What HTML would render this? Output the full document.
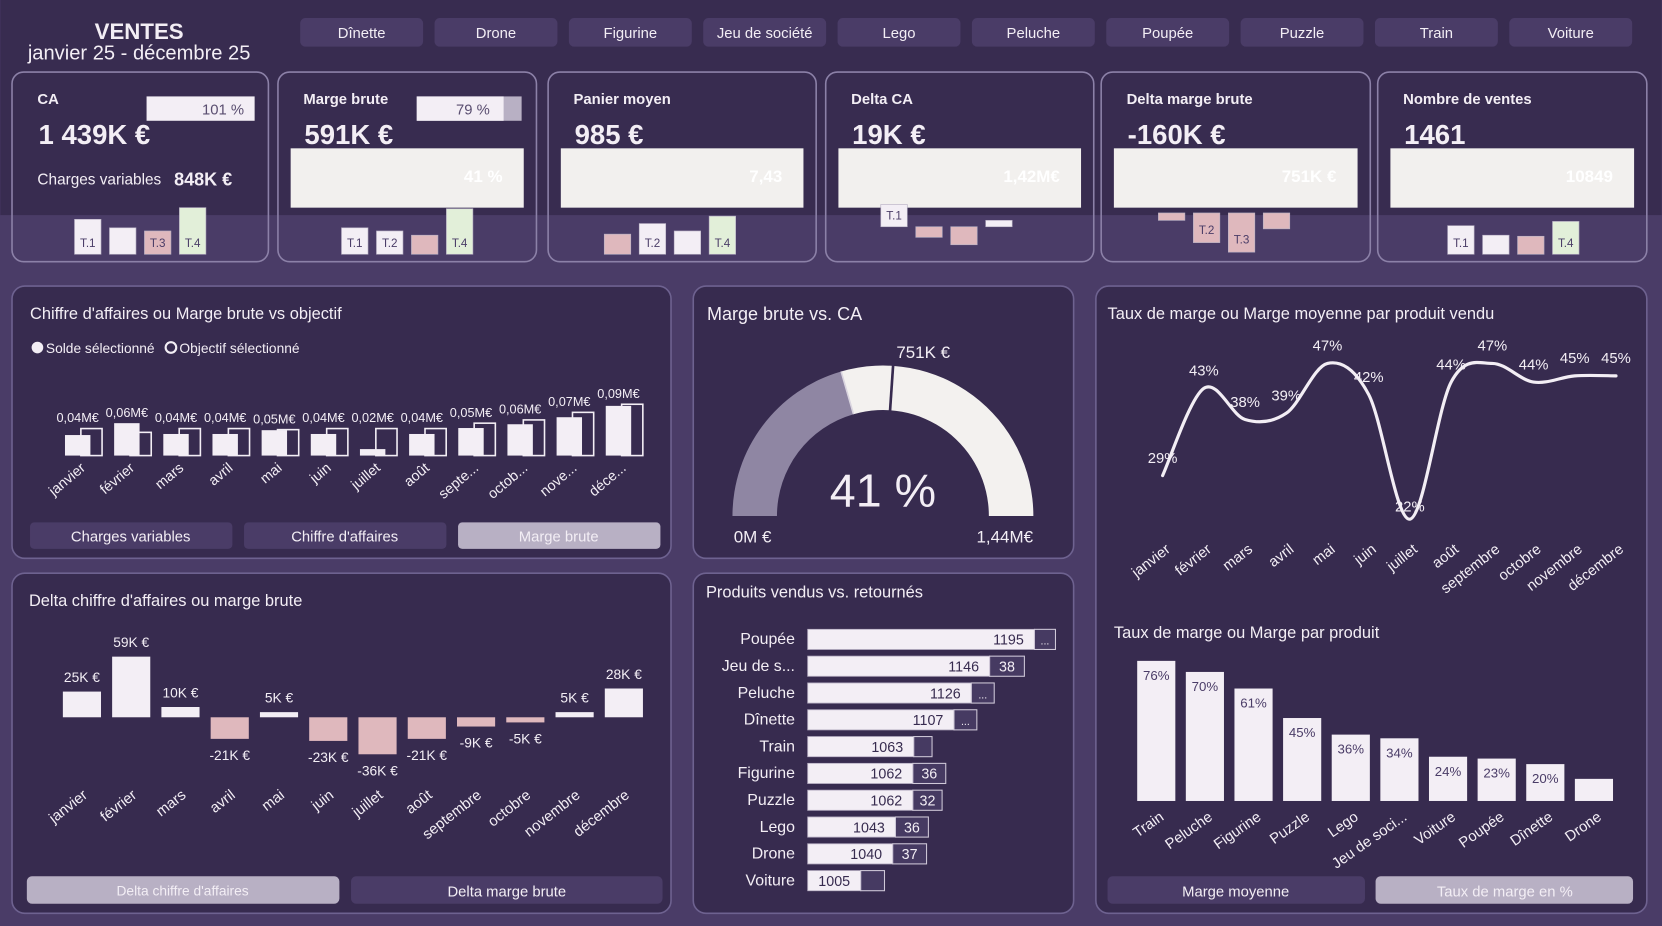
<!DOCTYPE html>
<html><head><meta charset="utf-8">
<style>
html,body{margin:0;padding:0;background:#4a3c67;overflow:hidden;}
svg{display:block;font-family:"Liberation Sans Narrow","Liberation Sans",sans-serif;}
</style></head>
<body>
<svg id="dash" fill="#f3eef5" width="1662" height="926" viewBox="0 0 1568 874" xmlns="http://www.w3.org/2000/svg">
<rect x="0" y="0" width="1568" height="874" fill="#4a3c67"/>
<rect x="0" y="0" width="1568" height="203" fill="#382c50"/>
<text x="131" y="37" text-anchor="middle" font-size="21" font-weight="bold">VENTES</text>
<text x="131" y="56" text-anchor="middle" font-size="19">janvier 25 - décembre 25</text>
<g id="slicers"></g>
<g id="kpis"></g>

<rect x="11" y="270" width="622" height="257" rx="12" fill="#372b4f" stroke="#6e6290" stroke-width="1.5"/>
<rect x="654" y="270" width="359" height="257" rx="12" fill="#372b4f" stroke="#6e6290" stroke-width="1.5"/>
<rect x="1034" y="270" width="520" height="592" rx="12" fill="#372b4f" stroke="#6e6290" stroke-width="1.5"/>
<rect x="11" y="541" width="622" height="321" rx="12" fill="#372b4f" stroke="#6e6290" stroke-width="1.5"/>
<rect x="654" y="541" width="359" height="321" rx="12" fill="#372b4f" stroke="#6e6290" stroke-width="1.5"/>

<text x="28" y="301" font-size="15.5">Chiffre d'affaires ou Marge brute vs objectif</text>
<circle cx="35" cy="328" r="5.5" fill="#f3eef5"/>
<text x="43" y="333" font-size="13">Solde sélectionné</text>
<circle cx="161" cy="328" r="5" fill="none" stroke="#f3eef5" stroke-width="2"/>
<text x="169" y="333" font-size="13">Objectif sélectionné</text>
<g id="objChart"></g>
<rect x="28" y="493" width="191" height="25" rx="4" fill="#4a3c67"/>
<text x="123" y="511" text-anchor="middle" font-size="14">Charges variables</text>
<rect x="230" y="493" width="191" height="25" rx="4" fill="#4a3c67"/>
<text x="325" y="511" text-anchor="middle" font-size="14">Chiffre d'affaires</text>
<rect x="432" y="493" width="191" height="25" rx="4" fill="#b8b0c4"/>
<text x="527" y="511" text-anchor="middle" font-size="14">Marge brute</text>

<text x="667" y="302" font-size="17">Marge brute vs. CA</text>
<g id="gauge"></g>

<text x="1045" y="301" font-size="15.5">Taux de marge ou Marge moyenne par produit vendu</text>
<g id="lineChart"></g>
<text x="1051" y="602" font-size="15.5">Taux de marge ou Marge par produit</text>
<g id="prodChart"></g>
<rect x="1045" y="827" width="243" height="26" rx="5" fill="#4a3c67"/>
<text x="1166" y="846" text-anchor="middle" font-size="14">Marge moyenne</text>
<rect x="1298" y="827" width="243" height="26" rx="5" fill="#b8b0c4"/>
<text x="1420" y="846" text-anchor="middle" font-size="14">Taux de marge en %</text>

<text x="27" y="572" font-size="15.5">Delta chiffre d'affaires ou marge brute</text>
<g id="deltaChart"></g>
<rect x="25" y="827" width="295" height="26" rx="5" fill="#b8b0c4"/>
<text x="172" y="845" text-anchor="middle" font-size="13">Delta chiffre d'affaires</text>
<rect x="331" y="827" width="294" height="26" rx="5" fill="#4a3c67"/>
<text x="478" y="846" text-anchor="middle" font-size="14">Delta marge brute</text>

<text x="666" y="564" font-size="15.5">Produits vendus vs. retournés</text>
<g id="soldChart"></g>
</svg>
<script>
const NS='http://www.w3.org/2000/svg';
function mk(tag,attrs,parent){const e=document.createElementNS(NS,tag);for(const k in attrs)e.setAttribute(k,attrs[k]);parent.appendChild(e);return e;}
const WHITE='#f3eef5',PINK='#dfb8bd',GREEN='#e2efd9',DARK='#372b4f';

const slicerItems=['Dînette','Drone','Figurine','Jeu de société','Lego','Peluche','Poupée','Puzzle','Train','Voiture'];
const months=['janvier','février','mars','avril','mai','juin','juillet','août','septembre','octobre','novembre','décembre'];
const monthsShort=['janvier','février','mars','avril','mai','juin','juillet','août','septe...','octob...','nove...','déce...'];
const soldeValues=[0.038,0.060,0.040,0.040,0.047,0.040,0.012,0.040,0.051,0.058,0.071,0.092];
const objectifValues=[0.050,0.043,0.050,0.050,0.048,0.050,0.050,0.050,0.060,0.066,0.080,0.095];
const objLabels=['0,04M€','0,06M€','0,04M€','0,04M€','0,05M€','0,04M€','0,02M€','0,04M€','0,05M€','0,06M€','0,07M€','0,09M€'];
const deltaValues=[25,59,10,-21,5,-23,-36,-21,-9,-5,5,28];
const marginRate=[29,43,38,39,47,42,22,44,47,44,45,45];
const products=['Train','Peluche','Figurine','Puzzle','Lego','Jeu de soci...','Voiture','Poupée','Dînette','Drone'];
const productRate=[76,70,61,45,36,34,24,23,20,12];
const productRateLabels=['76%','70%','61%','45%','36%','34%','24%','23%','20%',''];
const soldCats=['Poupée','Jeu de s...','Peluche','Dînette','Train','Figurine','Puzzle','Lego','Drone','Voiture'];
const soldValues=[1195,1146,1126,1107,1063,1062,1062,1043,1040,1005];
const returnedValues=[23,38,25,25,20,36,32,36,37,26];
const returnedLabels=['...','38','...','...','','36','32','36','37',''];
const gaugeValue=0.591, gaugeMax=1.44, gaugeTarget=0.751;

const kpiTitles=['CA','Marge brute','Panier moyen','Delta CA','Delta marge brute','Nombre de ventes'];
const kpiValues=['1 439K €','591K €','985 €','19K €','-160K €','1461'];
const kpiSub=['','41 %','7,43','1,42M€','751K €','10849'];
const kpiQ1=[33,25,19,21,-7,27];
const kpiQ2=[25,22,29,-10,-28,18];
const kpiQ3=[22,18,22,-17,-37,17];
const kpiQ4=[44,43,36,6,-15,31];
const quarterLabels=['T.1','T.2','T.3','T.4'];

const sl=document.getElementById('slicers');
slicerItems.forEach((s,i)=>{
  const x=283+i*126.8;
  const r=mk('rect',{x:x,y:17,width:116,height:27,rx:5,fill:'#4a3c67'},sl);
  
  
  const t=mk('text',{x:x+58,y:36,'text-anchor':'middle','font-size':14},sl);
  t.textContent=s;
  
  
});

const kp=document.getElementById('kpis');
const cardX=[[11,253],[262,506],[517,770],[779,1032],[1039,1293],[1300,1554]];
const kpiBase=[240,240,240,214,201,240];
const quarterColor=[[WHITE,WHITE,PINK,GREEN],[WHITE,WHITE,PINK,GREEN],[PINK,WHITE,WHITE,GREEN],[WHITE,PINK,PINK,WHITE],[PINK,PINK,PINK,PINK],[WHITE,WHITE,PINK,GREEN]];
const quarterShow=[[1,0,1,1],[1,1,0,1],[0,1,0,1],[1,0,0,0],[0,1,1,0],[1,0,0,1]];
cardX.forEach((c,i)=>{
  const [x0,x1]=c;
  const card=mk('rect',{x:x0,y:68,width:x1-x0,height:179,rx:11,fill:'none',stroke:'#8c81a8','stroke-width':1.5},kp);
  
  
  const tt=mk('text',{x:x0+24,y:98,'font-size':14,'font-weight':'bold'},kp);
  tt.textContent=kpiTitles[i];
  
  
  const tv=mk('text',{x:x0+25,y:136,'font-size':26,'font-weight':'bold'},kp);
  tv.textContent=kpiValues[i];
  
  
  if(i===0){
    const b=mk('rect',{x:138,y:91,width:102,height:23,fill:WHITE},kp);
    
    
    const bt=mk('text',{x:230,y:108,'text-anchor':'end','font-size':14,fill:'#5a4e70'},kp);
    bt.textContent='101 %';
    
    
    const cv=mk('text',{x:35,y:174,'font-size':14.5},kp);
    cv.textContent='Charges variables';
    
    
    const cvv=mk('text',{x:164,y:175,'font-size':17,'font-weight':'bold'},kp);
    cvv.textContent='848K €';
    
    
  } else {
    if(i===1){
      const g=mk('rect',{x:393,y:91,width:99,height:23,fill:'#b8b0c4'},kp);
      
      
      const w=mk('rect',{x:393,y:91,width:82,height:23,fill:WHITE},kp);
      
      
      const wt=mk('text',{x:462,y:108,'text-anchor':'end','font-size':14,fill:'#5a4e70'},kp);
      wt.textContent='79 %';
      
      
    }
    const sub=mk('rect',{x:x0+12,y:140,width:x1-x0-24,height:56,fill:'#f2f0ee'},kp);
    
    
    const st=mk('text',{x:x1-32,y:172,'text-anchor':'end','font-size':16,'font-weight':'bold',fill:'#ffffff'},kp);
    st.textContent=kpiSub[i];
    
    
  }
  const qv=[kpiQ1[i],kpiQ2[i],kpiQ3[i],kpiQ4[i]];
  const start=[70,322,570,831,1093,1366][i];
  qv.forEach((v,q)=>{
    const bx=start+q*33, base=kpiBase[i];
    const y=v>=0?base-v:base, h=Math.abs(v);
    const r=mk('rect',{x:bx,y:y,width:25,height:h,fill:quarterColor[i][q],stroke:'#b8b0c4','stroke-width':0.6},kp);
    
    
    if(quarterShow[i][q] && h>=14){
      const lt=mk('text',{x:bx+12.5,y:v>=0?base-7:base+h-8,'text-anchor':'middle','font-size':11,fill:'#4a3c67'},kp);
      lt.textContent=quarterLabels[q];
      
      
    }
  });
});

const oc=document.getElementById('objChart');
const oBase=430, oScale=510, oX0=79, oStep=46.4;
months.forEach((m,i)=>{
  const cx=oX0+i*oStep;
  const hs=soldeValues[i]*oScale, ho=objectifValues[i]*oScale;
  const ro=mk('rect',{x:cx-3,y:oBase-ho,width:20,height:ho,fill:'none',stroke:WHITE,'stroke-width':1.5},oc);
  
  
  const rs=mk('rect',{x:cx-18,y:oBase-hs,width:24,height:hs,fill:WHITE},oc);
  
  
  const lt=mk('text',{x:cx-6,y:oBase-Math.max(hs,ho)-6,'text-anchor':'middle','font-size':12},oc);
  lt.textContent=objLabels[i];
  
  
  const ml=mk('text',{x:cx+2,y:443,'text-anchor':'end','font-size':13.5,transform:`rotate(-40 ${cx+2} 443)`},oc);
  ml.textContent=monthsShort[i];
  
  
});

const gg=document.getElementById('gauge');
const gcx=833,gcy=487,gR=142,gr=100;
function pt(f,rad){const t=Math.PI*(1-f);return [gcx+rad*Math.cos(t),gcy-rad*Math.sin(t)];}
function arc(f0,f1){const a=pt(f0,gR),b=pt(f1,gR),c=pt(f1,gr),d=pt(f0,gr);
  return `M${a[0]},${a[1]} A${gR},${gR} 0 0 1 ${b[0]},${b[1]} L${c[0]},${c[1]} A${gr},${gr} 0 0 0 ${d[0]},${d[1]} Z`;}
const fv=gaugeValue/gaugeMax, ft=gaugeTarget/gaugeMax;
const ga=mk('path',{d:arc(fv,1),fill:'#f3f1ef'},gg);


const gb=mk('path',{d:arc(0,fv),fill:'#8f86a3'},gg);


const p1=pt(ft,gr-2),p2=pt(ft,gR+2);
const gm=mk('line',{x1:p1[0],y1:p1[1],x2:p2[0],y2:p2[1],stroke:DARK,'stroke-width':2.5},gg);


const gsep=pt(fv,gR),gsep2=pt(fv,gr);
const gs=mk('line',{x1:gsep[0],y1:gsep[1],x2:gsep2[0],y2:gsep2[1],stroke:'#d9d4df','stroke-width':1.5},gg);


const gt=mk('text',{x:gcx,y:478,'text-anchor':'middle','font-size':44},gg);
gt.textContent=Math.round(fv*100)+' %';


const g0=mk('text',{x:710,y:512,'text-anchor':'middle','font-size':16},gg);
g0.textContent='0M €';


const g1=mk('text',{x:948,y:512,'text-anchor':'middle','font-size':16},gg);
g1.textContent='1,44M€';


const g2=mk('text',{x:871,y:338,'text-anchor':'middle','font-size':16},gg);
g2.textContent='751K €';



const lc=document.getElementById('lineChart');
const lx=i=>1097+i*38.9, ly=v=>343+(47-v)*5.88;
const pts=marginRate.map((v,i)=>[lx(i),ly(v)]);
let d=`M${pts[0][0]},${pts[0][1]}`;
for(let i=0;i<pts.length-1;i++){
  const p0=pts[Math.max(i-1,0)],p1=pts[i],p2=pts[i+1],p3=pts[Math.min(i+2,pts.length-1)];
  const c1=[p1[0]+(p2[0]-p0[0])/6,p1[1]+(p2[1]-p0[1])/6],c2=[p2[0]-(p3[0]-p1[0])/6,p2[1]-(p3[1]-p1[1])/6];
  d+=` C${c1[0]},${c1[1]} ${c2[0]},${c2[1]} ${p2[0]},${p2[1]}`;
}
const ln=mk('path',{d:d,fill:'none',stroke:WHITE,'stroke-width':3,'stroke-linecap':'round'},lc);


marginRate.forEach((v,i)=>{
  const t=mk('text',{x:lx(i),y:ly(v)-(i===6?7:12),'text-anchor':'middle','font-size':14},lc);
  t.textContent=v+'%';
  
  
  const ml=mk('text',{x:lx(i)+8,y:520,'text-anchor':'end','font-size':14,transform:`rotate(-38 ${lx(i)+8} 520)`},lc);
  ml.textContent=months[i];
  
  
});

const pc=document.getElementById('prodChart');
const pBase=756,pScale=1.74;
products.forEach((p,i)=>{
  const cx=1091+i*45.9, h=productRate[i]*pScale;
  const r=mk('rect',{x:cx-18,y:pBase-h,width:36,height:h,fill:WHITE},pc);
  
  
  if(productRateLabels[i]){
    const t=mk('text',{x:cx,y:pBase-h+18,'text-anchor':'middle','font-size':12.5,fill:'#4a3c67'},pc);
    t.textContent=productRateLabels[i];
    
    
  }
  const ml=mk('text',{x:cx+8,y:773,'text-anchor':'end','font-size':14,transform:`rotate(-35 ${cx+8} 773)`},pc);
  ml.textContent=p;
  
  
});

const dc=document.getElementById('deltaChart');
const dBase=677,dScale=0.97;
deltaValues.forEach((v,i)=>{
  const cx=77+i*46.5, h=Math.abs(v)*dScale;
  const r=mk('rect',{x:cx-18,y:v>=0?dBase-h:dBase,width:36,height:Math.max(h,2),fill:v>=0?WHITE:PINK},dc);
  
  
  const t=mk('text',{x:cx,y:v>=0?dBase-h-9:dBase+h+20,'text-anchor':'middle','font-size':13},dc);
  t.textContent=v+'K €';
  
  
  const ml=mk('text',{x:cx+6,y:752,'text-anchor':'end','font-size':14,transform:`rotate(-38 ${cx+6} 752)`},dc);
  ml.textContent=months[i];
  
  
});

const sc=document.getElementById('soldChart');
const sX0=762,sMin=947,sScale=0.863;
soldCats.forEach((c,i)=>{
  const y=594+i*25.3, w=(soldValues[i]-sMin)*sScale, rw=returnedValues[i]*sScale;
  const lab=mk('text',{x:750,y:y+14,'text-anchor':'end','font-size':15},sc);
  lab.textContent=c;
  
  
  const r=mk('rect',{x:sX0,y:y,width:w,height:19,fill:WHITE,stroke:'#b8b0c4','stroke-width':0.8},sc);
  
  
  const t=mk('text',{x:sX0+w-10,y:y+14.5,'text-anchor':'end','font-size':13.5,fill:DARK},sc);
  t.textContent=soldValues[i];
  
  
  const rr=mk('rect',{x:sX0+w,y:y,width:rw,height:19,fill:'#463a62',stroke:'#cfc8d8','stroke-width':1},sc);
  
  
  if(returnedLabels[i]){
    const rt=mk('text',{x:sX0+w+rw/2,y:y+14.5,'text-anchor':'middle','font-size':returnedLabels[i]==='...'?10:13.5},sc);
    rt.textContent=returnedLabels[i];
    
    
  }
});
</script>
</body></html>
